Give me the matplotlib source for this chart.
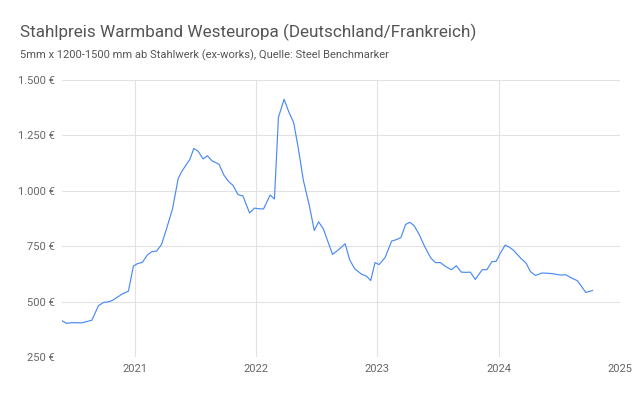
import matplotlib.pyplot as plt
import matplotlib.dates as mdates
import matplotlib.ticker as mticker
import numpy as np

plt.rcParams['font.family'] = ['Roboto', 'DejaVu Sans']

# Warmband price, EUR/t
dates = [
    "2020-05-26", "2020-06-08", "2020-06-25", "2020-07-25", "2020-08-09", "2020-08-24",
    "2020-09-13", "2020-09-28", "2020-10-13", "2020-10-26", "2020-11-09", "2020-11-24",
    "2020-12-12", "2020-12-27", "2021-01-08", "2021-01-23", "2021-02-07", "2021-02-20",
    "2021-03-07", "2021-03-22", "2021-04-06", "2021-04-24", "2021-05-11", "2021-05-21",
    "2021-06-03", "2021-06-15", "2021-06-27", "2021-07-10", "2021-07-25", "2021-08-07",
    "2021-08-21", "2021-09-11", "2021-09-26", "2021-10-11", "2021-10-23", "2021-11-07",
    "2021-11-22", "2021-12-12", "2021-12-27", "2022-01-08", "2022-01-23", "2022-02-12",
    "2022-02-25", "2022-03-09", "2022-03-26", "2022-04-09", "2022-04-24", "2022-05-08",
    "2022-05-23", "2022-06-10", "2022-06-25", "2022-07-08", "2022-07-22", "2022-08-19",
    "2022-09-06", "2022-09-26", "2022-10-10", "2022-10-25", "2022-11-14", "2022-11-29",
    "2022-12-12", "2022-12-25", "2023-01-06", "2023-01-24", "2023-02-13", "2023-02-28",
    "2023-03-13", "2023-03-27", "2023-04-09", "2023-04-22", "2023-05-07", "2023-05-24",
    "2023-06-11", "2023-06-25", "2023-07-10", "2023-07-25", "2023-08-12", "2023-08-27",
    "2023-09-11", "2023-09-26", "2023-10-08", "2023-10-23", "2023-11-13", "2023-11-27",
    "2023-12-12", "2023-12-25", "2024-01-06", "2024-01-21", "2024-02-03", "2024-02-15",
    "2024-03-09", "2024-03-24", "2024-04-06", "2024-04-21", "2024-05-11", "2024-06-07",
    "2024-07-05", "2024-07-22", "2024-08-06", "2024-08-26", "2024-09-20", "2024-10-10",
]
prices = [
    414, 402, 405, 404, 410, 416,
    482, 496, 499, 506, 520, 535,
    547, 660, 671, 677, 710, 725,
    728, 758, 829, 919, 1055, 1085,
    1115, 1141, 1191, 1179, 1144, 1158,
    1135, 1120, 1070, 1040, 1025, 983,
    977, 900, 922, 919, 918, 981,
    963, 1331, 1413, 1357, 1307, 1191,
    1048, 934, 821, 860, 829, 713,
    734, 761, 687, 648, 624, 615,
    595, 676, 667, 698, 773, 780,
    789, 848, 858, 842, 803, 747,
    697, 676, 676, 659, 644, 662,
    633, 632, 633, 600, 644, 644,
    680, 682, 717, 755, 745, 732,
    694, 674, 636, 618, 629, 627,
    620, 621, 608, 594, 541, 550,
]
y_ticks = [250, 500, 750, 1000, 1250, 1500]
years = [2021, 2022, 2023, 2024, 2025]

x = np.array(dates, dtype="datetime64[D]")

fig = plt.figure(figsize=(6.4, 3.96), dpi=100)
ax = fig.add_axes([62 / 640, 1 - 357 / 396, (620 - 62) / 640, (357 - 80) / 396])

ax.plot(x, prices, color="#4a8af4", lw=0.85)

ax.set_ylim(250, 1500)
ax.set_yticks(y_ticks)
ax.yaxis.set_major_formatter(
    mticker.FuncFormatter(lambda v, p: "{:,.0f} €".format(v).replace(",", ".")))
ax.set_xlim(x[0], np.datetime64("2025-01-01"))
ax.set_xticks([np.datetime64("{}-01-01".format(y)) for y in years])
ax.xaxis.set_major_formatter(mdates.DateFormatter("%Y"))

ax.grid(True, color="#e2e2e2", lw=0.8)
ax.set_axisbelow(True)
for s in ax.spines.values():
    s.set_visible(False)
ax.tick_params(length=0, labelsize=8, colors="#666666", pad=5)

fig.text(20 / 640, 1 - 37 / 396, "Stahlpreis Warmband Westeuropa (Deutschland/Frankreich)",
         fontsize=12.3, color="#555555")
fig.text(20 / 640, 1 - 58 / 396, "5mm x 1200-1500 mm ab Stahlwerk (ex-works), Quelle: Steel Benchmarker",
         fontsize=8.05, color="#555555")

fig.savefig("out.png", dpi=100)
